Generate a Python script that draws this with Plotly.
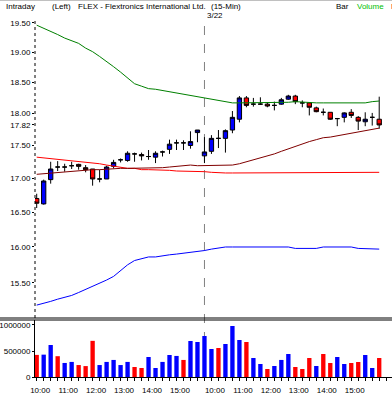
import plotly.graph_objects as go

# ---------------- data ----------------
bar_index = list(range(50))
opens = [16.70, 16.62, 16.98, 17.17, 17.17, 17.19, 17.21, 17.16, 17.14, 16.99,
         16.99, 17.18, 17.28, 17.27, 17.37, 17.36, 17.33, 17.32, 17.40, 17.44,
         17.54, 17.54, 17.50, 17.70, 17.34, 17.41, 17.61, 17.61, 17.74, 17.91,
         18.25, 18.15, 18.15, 18.15, 18.13, 18.15, 18.23, 18.28, 18.17, 18.17,
         18.09, 18.02, 18.02, 17.92, 17.94, 18.02, 17.94, 17.87, 17.94, 17.91]
highs = [16.77, 16.98, 17.25, 17.26, 17.22, 17.25, 17.22, 17.20, 17.14, 17.13,
         17.19, 17.28, 17.30, 17.41, 17.39, 17.39, 17.43, 17.41, 17.42, 17.59,
         17.59, 17.58, 17.72, 17.74, 17.63, 17.66, 17.74, 17.75, 18.04, 18.28,
         18.28, 18.25, 18.26, 18.18, 18.19, 18.25, 18.30, 18.30, 18.21, 18.18,
         18.11, 18.08, 18.02, 17.93, 18.02, 18.07, 17.96, 18.02, 18.01, 18.27]
lows = [16.56, 16.61, 16.92, 17.11, 17.10, 17.14, 17.13, 17.09, 16.89, 16.94,
        16.99, 17.15, 17.24, 17.25, 17.25, 17.27, 17.28, 17.23, 17.33, 17.37,
        17.43, 17.43, 17.45, 17.55, 17.23, 17.37, 17.46, 17.39, 17.69, 17.86,
        18.10, 18.11, 18.14, 18.10, 18.05, 18.14, 18.22, 18.15, 18.10, 17.97,
        18.02, 17.97, 17.90, 17.80, 17.86, 17.93, 17.74, 17.80, 17.81, 17.76]
closes = [16.63, 16.96, 17.14, 17.17, 17.17, 17.19, 17.18, 17.13, 16.99, 16.99,
          17.17, 17.24, 17.28, 17.38, 17.37, 17.34, 17.33, 17.38, 17.40, 17.52,
          17.54, 17.54, 17.56, 17.74, 17.40, 17.61, 17.61, 17.73, 17.94, 18.25,
          18.13, 18.15, 18.15, 18.12, 18.13, 18.22, 18.28, 18.19, 18.17, 18.10,
          18.03, 18.02, 17.91, 17.92, 18.01, 17.97, 17.88, 17.91, 17.94, 17.82]
volumes = [425000, 430000, 615000, 400000, 270000, 290000, 230000, 210000, 695000, 230000,
           290000, 328000, 230000, 290000, 192000, 173000, 385000, 173000, 290000, 423000,
           405000, 328000, 692000, 673000, 788000, 538000, 558000, 635000, 981000, 712000,
           673000, 365000, 250000, 154000, 212000, 328000, 442000, 192000, 154000, 365000,
           212000, 442000, 269000, 385000, 250000, 269000, 288000, 423000, 173000, 365000]
volume_up = [0, 1, 1, 0, 1, 1, 0, 0, 0, 1,
             1, 1, 1, 1, 0, 0, 1, 1, 1, 1,
             1, 0, 1, 1, 1, 1, 0, 1, 1, 1,
             0, 1, 1, 0, 1, 1, 1, 0, 0, 0,
             1, 0, 0, 1, 1, 0, 0, 1, 1, 0]
upper_band = [19.46, 19.41, 19.35, 19.30, 19.24, 19.19, 19.15, 19.07, 19.01, 18.93,
              18.85, 18.76, 18.67, 18.58, 18.48, 18.44, 18.40, 18.39, 18.37, 18.35,
              18.32, 18.30, 18.28, 18.26, 18.24, 18.22, 18.20, 18.18, 18.17, 18.17,
              18.17, 18.17, 18.17, 18.17, 18.17, 18.17, 18.18, 18.19, 18.18, 18.17,
              18.17, 18.17, 18.17, 18.17, 18.17, 18.17, 18.17, 18.17, 18.19, 18.20]
middle_band = [17.32, 17.31, 17.29, 17.28, 17.27, 17.26, 17.25, 17.24, 17.23, 17.22,
               17.20, 17.18, 17.16, 17.15, 17.15, 17.13, 17.13, 17.13, 17.12, 17.12,
               17.11, 17.11, 17.10, 17.10, 17.10, 17.09, 17.08, 17.08, 17.08, 17.08,
               17.08, 17.08, 17.08, 17.08, 17.08, 17.08, 17.08, 17.08, 17.08, 17.08,
               17.08, 17.08, 17.08, 17.08, 17.08, 17.08, 17.08, 17.08, 17.08, 17.09]
lower_band = [15.20, 15.22, 15.25, 15.28, 15.30, 15.33, 15.37, 15.41, 15.45, 15.49,
              15.54, 15.59, 15.67, 15.75, 15.81, 15.84, 15.86, 15.86, 15.88, 15.89,
              15.90, 15.91, 15.93, 15.94, 15.95, 15.97, 15.99, 16.00, 16.00, 16.00,
              16.00, 16.00, 16.00, 16.00, 16.00, 16.00, 16.00, 15.98, 15.98, 15.98,
              15.98, 16.00, 16.00, 16.00, 16.00, 16.00, 15.98, 15.98, 15.98, 15.97]
short_ma = [17.06, 17.07, 17.08, 17.09, 17.10, 17.11, 17.12, 17.12, 17.13, 17.13,
            17.14, 17.15, 17.15, 17.15, 17.15, 17.15, 17.16, 17.16, 17.16, 17.17,
            17.18, 17.19, 17.20, 17.19, 17.19, 17.19, 17.19, 17.19, 17.20, 17.22,
            17.25, 17.28, 17.30, 17.33, 17.37, 17.41, 17.45, 17.49, 17.52, 17.56,
            17.59, 17.62, 17.63, 17.65, 17.67, 17.68, 17.70, 17.72, 17.74, 17.77]

price_ticks = [15.50, 16.00, 16.50, 17.00, 17.50, 17.82, 18.00, 18.50, 19.00, 19.50]
price_tick_text = ["15.50", "16.00", "16.50", "17.00", "17.50", "17.82", "18.00", "18.50", "19.00", "19.50"]
volume_ticks = [0, 500000, 1000000]
volume_tick_text = ["0", "500000", "1000000"]
time_tick_pos = [0.5, 4.5, 8.5, 12.5, 16.5, 20.5, 25.5, 29.5, 33.5, 37.5, 41.5, 45.5]
time_tick_text = ["10:00", "11:00", "12:00", "13:00", "14:00", "15:00",
                  "10:00", "11:00", "12:00", "13:00", "14:00", "15:00"]
day_break_index = 24
day_break_label = "3/22"

# ---------------- figure ----------------
W, H = 392, 398
FONT = "Liberation Sans, Arial, sans-serif"

def py(px):  # pixel row -> paper fraction
    return 1 - px / H

BLUE = "#0000FF"
RED = "#FF0000"

fig = go.Figure()

groups = {"up": [], "down": [], "flat": []}
for i in bar_index:
    if closes[i] > opens[i]:
        groups["up"].append(i)
    elif closes[i] < opens[i]:
        groups["down"].append(i)
    else:
        groups["flat"].append(i)

fills = {"up": BLUE, "down": RED, "flat": "black"}
for key, idx in groups.items():
    fig.add_trace(go.Candlestick(
        x=[bar_index[i] for i in idx],
        open=[opens[i] for i in idx], high=[highs[i] for i in idx],
        low=[lows[i] for i in idx], close=[closes[i] for i in idx],
        increasing=dict(line=dict(color="black", width=1), fillcolor=fills[key]),
        decreasing=dict(line=dict(color="black", width=1), fillcolor=fills[key]),
        whiskerwidth=0, showlegend=False, xaxis="x", yaxis="y"))

for series, color in [(upper_band, "#008000"), (middle_band, RED),
                      (lower_band, BLUE), (short_ma, "#800000")]:
    fig.add_trace(go.Scatter(x=bar_index, y=series, mode="lines",
                             line=dict(color=color, width=1),
                             showlegend=False, xaxis="x", yaxis="y"))

fig.add_trace(go.Bar(x=bar_index, y=volumes,
                     marker=dict(color=[BLUE if u else RED for u in volume_up], line=dict(width=0)),
                     width=0.62, showlegend=False, xaxis="x2", yaxis="y2"))

x0 = 35 / W
xrange = [-0.243, 50.83]

fig.update_layout(
    width=W, height=H, margin=dict(l=0, r=0, t=0, b=0, autoexpand=False),
    paper_bgcolor="white", plot_bgcolor="white",
    font=dict(family=FONT, size=8, color="black"),
    boxgap=0.12, boxgroupgap=0.3,
    xaxis=dict(domain=[x0, 1], range=xrange, anchor="y", showticklabels=False,
               showgrid=False, zeroline=False, rangeslider=dict(visible=False), ticks="",
               automargin=False),
    yaxis=dict(domain=[py(318), py(20)], type="log", range=[1.17690, 1.29113],
               anchor="x", tickvals=price_ticks, ticktext=price_tick_text,
               ticks="outside", ticklen=2, tickcolor="black", showgrid=False,
               zeroline=False, showline=False, tickfont=dict(size=8),
               ticklabelstandoff=0, automargin=False),
    xaxis2=dict(domain=[x0, 1], range=xrange, anchor="y2", tickvals=time_tick_pos,
                ticktext=time_tick_text, ticks="", showgrid=False, zeroline=False,
                showline=True, linecolor="black", linewidth=1,
                minor=dict(tickmode="linear", tick0=0, dtick=1, ticks="outside",
                           ticklen=3, tickcolor="black", showgrid=False),
                tickfont=dict(size=8), ticklabelstandoff=5, automargin=False),
    yaxis2=dict(domain=[py(377), py(320)], range=[0, 1096000], anchor="x2",
                tickvals=volume_ticks, ticktext=volume_tick_text, ticks="outside",
                ticklen=2, tickcolor="black", showgrid=False, zeroline=False,
                showline=True, linecolor="black", linewidth=1,
                tickfont=dict(size=8), ticklabelstandoff=0, automargin=False),
)

shapes = [
    dict(type="line", xref="x", yref="paper", x0=day_break_index, x1=day_break_index,
         y0=py(377), y1=py(23), line=dict(color="#808080", width=1, dash="dash"), layer="below"),
    dict(type="line", xref="paper", yref="paper", x0=x0, x1=x0, y0=py(318), y1=py(20),
         line=dict(color="black", width=1, dash="dot")),
    dict(type="line", xref="paper", yref="paper", x0=0, x1=1, y0=py(318), y1=py(318),
         line=dict(color="black", width=1)),
    dict(type="line", xref="paper", yref="paper", x0=0, x1=1, y0=py(320), y1=py(320),
         line=dict(color="black", width=1)),
    dict(type="line", xref="paper", yref="paper", x0=0, x1=1, y0=py(0.5), y1=py(0.5),
         line=dict(color="#C0C0C0", width=1)),
]
fig.update_layout(shapes=shapes)

def label(text, xpx, ypx, color="black"):
    return dict(text=text, x=xpx / W, y=py(ypx), xref="paper", yref="paper",
                xanchor="left", yanchor="middle", showarrow=False,
                font=dict(family=FONT, size=8, color=color))

annotations = [
    label("Intraday", 4, 6.5),
    label("(Left)", 50, 6.5),
    label("FLEX - Flextronics International Ltd.", 76, 6.5),
    label("(15-Min)", 208.5, 6.5),
    label("Bar", 334, 6.5),
    label("Volume", 355, 6.5, "#00C000"),
    label("M", 389, 6.5, RED),
    dict(text=day_break_label, x=day_break_index, xref="x", y=py(15.5), yref="paper",
         xanchor="left", yanchor="middle", showarrow=False, xshift=1,
         font=dict(family=FONT, size=8, color="black")),
]
fig.update_layout(annotations=annotations)

fig.write_html("out.html", config={"displayModeBar": False},
               post_script="document.body.style.margin='0';document.body.style.padding='0';")
